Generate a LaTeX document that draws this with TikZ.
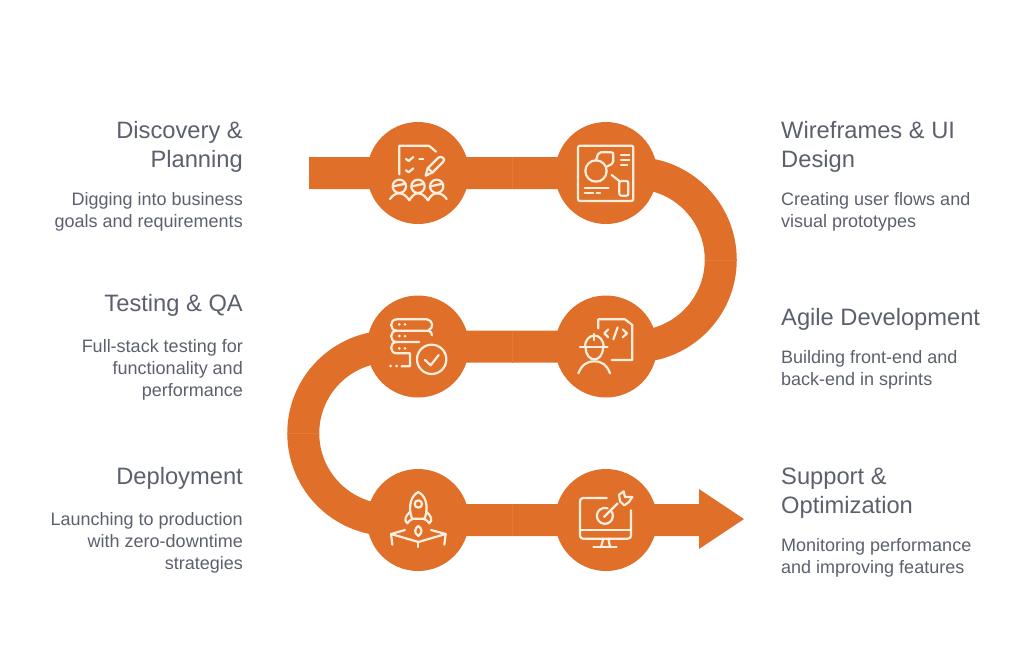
\documentclass[tikz,border=0pt]{standalone}
\usepackage{fontspec}
\setmainfont{Liberation Sans}
\definecolor{bandorange}{HTML}{E07029}
\definecolor{seamorange}{HTML}{E47B38}
\definecolor{iconcream}{HTML}{FDEEDD}
\definecolor{textgrey}{HTML}{5B606C}
\tikzset{
  stage/.style={circle,fill=bandorange,minimum size=102pt,inner sep=0pt},
  band/.style={draw=bandorange,line width=32pt,line join=round},
  seam/.style={draw=seamorange,line width=0.7pt},
  icon/.style 2 args={shift={(#1,#2)},x=0.3333pt,y=-0.3333pt,draw=iconcream,line width=2.2pt,line cap=round,line join=round},
  heading/.style={text=textgrey,inner sep=0pt,font=\fontsize{23.7}{29}\selectfont},
  blurb/.style={text=textgrey,inner sep=0pt,font=\fontsize{18}{22}\selectfont},
  leftcol/.style={anchor=north east,align=right},
  rightcol/.style={anchor=north west,align=left}
}
\begin{document}
\begin{tikzpicture}[x=1pt,y=1pt]
\useasboundingbox (0,0) rectangle (1024,-649);
\node[stage] (discovery) at (418,-173) {};
\node[stage] (wireframes) at (606,-173) {};
\node[stage] (testing) at (418,-346.5) {};
\node[stage] (agile) at (606,-346.5) {};
\node[stage] (deployment) at (418,-520) {};
\node[stage] (support) at (606,-520) {};
\coordinate (start) at (309,-173);
\coordinate (headbase) at (699,-520);
\coordinate (headtop) at (699,-489);
\coordinate (headbottom) at (699,-549);
\coordinate (headtip) at (744,-519);
\draw[band] (start) -- (discovery.center) -- (wireframes.center) -- (634,-173) arc[start angle=90,end angle=-90,radius=86.75] -- (agile.center) -- (testing.center) -- (390,-346.5) arc[start angle=90,end angle=270,radius=86.75] -- (deployment.center) -- (support.center) -- (headbase);
\fill[bandorange] (headtop) -- (headtip) -- (headbottom) -- cycle;
\draw[seam] (512.5,-157) -- (512.5,-189);
\draw[seam] (512.5,-330.5) -- (512.5,-362.5);
\draw[seam] (512.5,-504) -- (512.5,-536);
\draw[seam] (705,-260) -- (737,-260);
\draw[seam] (287,-433) -- (319,-433);

\node[heading,leftcol] (discoverytitle) at (243,-121) {Discovery \&\\Planning};
\node[blurb,leftcol] (discoverytext) at (243,-192) {Digging into business\\goals and requirements};
\node[heading,leftcol] (testingtitle) at (243,-294) {Testing \& QA};
\node[blurb,leftcol] (testingtext) at (243,-339) {Full-stack testing for\\functionality and\\performance};
\node[heading,leftcol] (deploymenttitle) at (243,-467) {Deployment};
\node[blurb,leftcol] (deploymenttext) at (243,-512) {Launching to production\\with zero-downtime\\strategies};
\node[heading,rightcol] (wireframestitle) at (781,-121) {Wireframes \& UI\\Design};
\node[blurb,rightcol] (wireframestext) at (781,-192) {Creating user flows and\\visual prototypes};
\node[heading,rightcol] (agiletitle) at (781,-308) {Agile Development};
\node[blurb,rightcol] (agiletext) at (781,-350) {Building front-end and\\back-end in sprints};
\node[heading,rightcol] (supporttitle) at (781,-468) {Support \&\\Optimization};
\node[blurb,rightcol] (supporttext) at (781,-538) {Monitoring performance\\and improving features};

\begin{scope}[icon={360}{-115}]
\draw (118,178) -- (118,92) -- (207,92) -- (228,110);
\draw (138,132) -- (146,138) -- (160,126);
\draw (178,132) -- (190,132);
\draw (138,166) -- (146,172) -- (160,160);
\draw (197,182) -- (203,160) -- (235,128) .. controls (243,120) and (258,132) .. (250,140) -- (218,172) -- cycle;
\draw (203,160) -- (218,172);
\draw (118,214) circle (20);
\draw (174,214) circle (20);
\draw (230,214) circle (20);
\draw (100,214) -- (136,206);
\draw (156,214) -- (192,206);
\draw (212,214) -- (248,206);
\draw (90,252) .. controls (98,240) and (108,235) .. (118,235) .. controls (130,235) and (140,244) .. (148,256) .. controls (155,244) and (164,235) .. (174,235) .. controls (186,235) and (196,244) .. (204,256) .. controls (210,244) and (220,235) .. (230,235) .. controls (242,235) and (252,240) .. (260,252);
\end{scope}

\begin{scope}[icon={550}{-115}]
\draw[rounded corners=2pt] (84,92) rectangle (250,258);
\draw (138,168) circle (32);
\draw[rounded corners=2pt] (138,135) -- (146,112) -- (190,112) -- (190,145) -- (168,156);
\draw (213,120) -- (238,120);
\draw (213,135) -- (238,135);
\draw (213,150) -- (232,150);
\draw (185,180) -- (208,198);
\draw[rounded corners=2pt] (208,198) rectangle (235,242);
\draw (104,218) -- (176,218);
\draw (104,235) -- (130,235);
\draw (140,235) -- (150,235);
\end{scope}

\begin{scope}[icon={360}{-290}]
\draw (200,88) -- (110,88) .. controls (88,88) and (88,122) .. (110,122) -- (205,122);
\draw (200,88) .. controls (220,92) and (222,112) .. (205,122) .. controls (212,124) and (216,128) .. (216,136);
\draw (110,122) .. controls (88,122) and (88,156) .. (110,156) -- (178,156);
\draw (110,156) .. controls (88,156) and (88,190) .. (110,190) -- (150,190) -- (150,229) -- (125,229);
\foreach \dotx/\doty in {118/103,135/103,118/138,135/138,118/175,135/175,92/228,110/228} {
  \fill[iconcream] (\dotx,\doty) circle (4.5);
}
\draw (215,208) circle (44);
\draw (195,210) -- (212,226) -- (236,195);
\end{scope}

\begin{scope}[icon={545}{-290}]
\draw (200,210) -- (262,210) -- (262,105) -- (240,88) -- (160,88) -- (160,115);
\draw (190,118) -- (178,130) -- (190,142);
\draw (205,148) -- (218,112);
\draw (233,118) -- (246,130) -- (233,142);
\draw (105,172) -- (188,172);
\draw (120,172) .. controls (120,125) and (176,125) .. (176,172);
\draw (148,132) -- (148,150);
\draw (122,172) .. controls (122,220) and (174,220) .. (174,172);
\draw (100,250) .. controls (110,225) and (125,214) .. (148,214) .. controls (171,214) and (186,225) .. (195,250);
\end{scope}

\begin{scope}[icon={360}{-462}]
\draw (175,90) .. controls (155,100) and (142,130) .. (156,170) -- (194,170) .. controls (208,130) and (195,100) .. (175,90) -- cycle;
\draw (175,126) circle (11);
\draw (150,150) .. controls (138,160) and (130,175) .. (142,184) .. controls (148,175) and (155,172) .. (160,170);
\draw (200,150) .. controls (212,160) and (220,175) .. (208,184) .. controls (202,175) and (195,172) .. (190,170);
\draw (175,192) .. controls (165,198) and (160,212) .. (175,222) .. controls (190,212) and (185,198) .. (175,192) -- cycle;
\draw (135,204) -- (93,216) -- (175,240) -- (257,216) -- (213,204);
\draw (93,216) -- (97,248);
\draw (257,216) -- (253,248);
\draw (175,240) -- (175,255);
\end{scope}

\begin{scope}[icon={545}{-462}]
\draw[rounded corners=3pt] (185,108) -- (105,108) -- (105,230) -- (258,230) -- (258,145);
\draw (105,205) -- (258,205);
\draw (175,230) -- (168,255);
\draw (190,230) -- (195,255);
\draw (145,255) -- (215,255);
\draw (198,146) arc[start angle=-40,end angle=290,radius=24];
\fill[iconcream] (178,164) circle (4);
\draw (178,164) -- (218,124);
\draw (222,98) -- (236,88) -- (240,105) -- (262,105) -- (252,120) -- (238,130) -- (225,118) -- cycle;
\end{scope}
\end{tikzpicture}
\end{document}
